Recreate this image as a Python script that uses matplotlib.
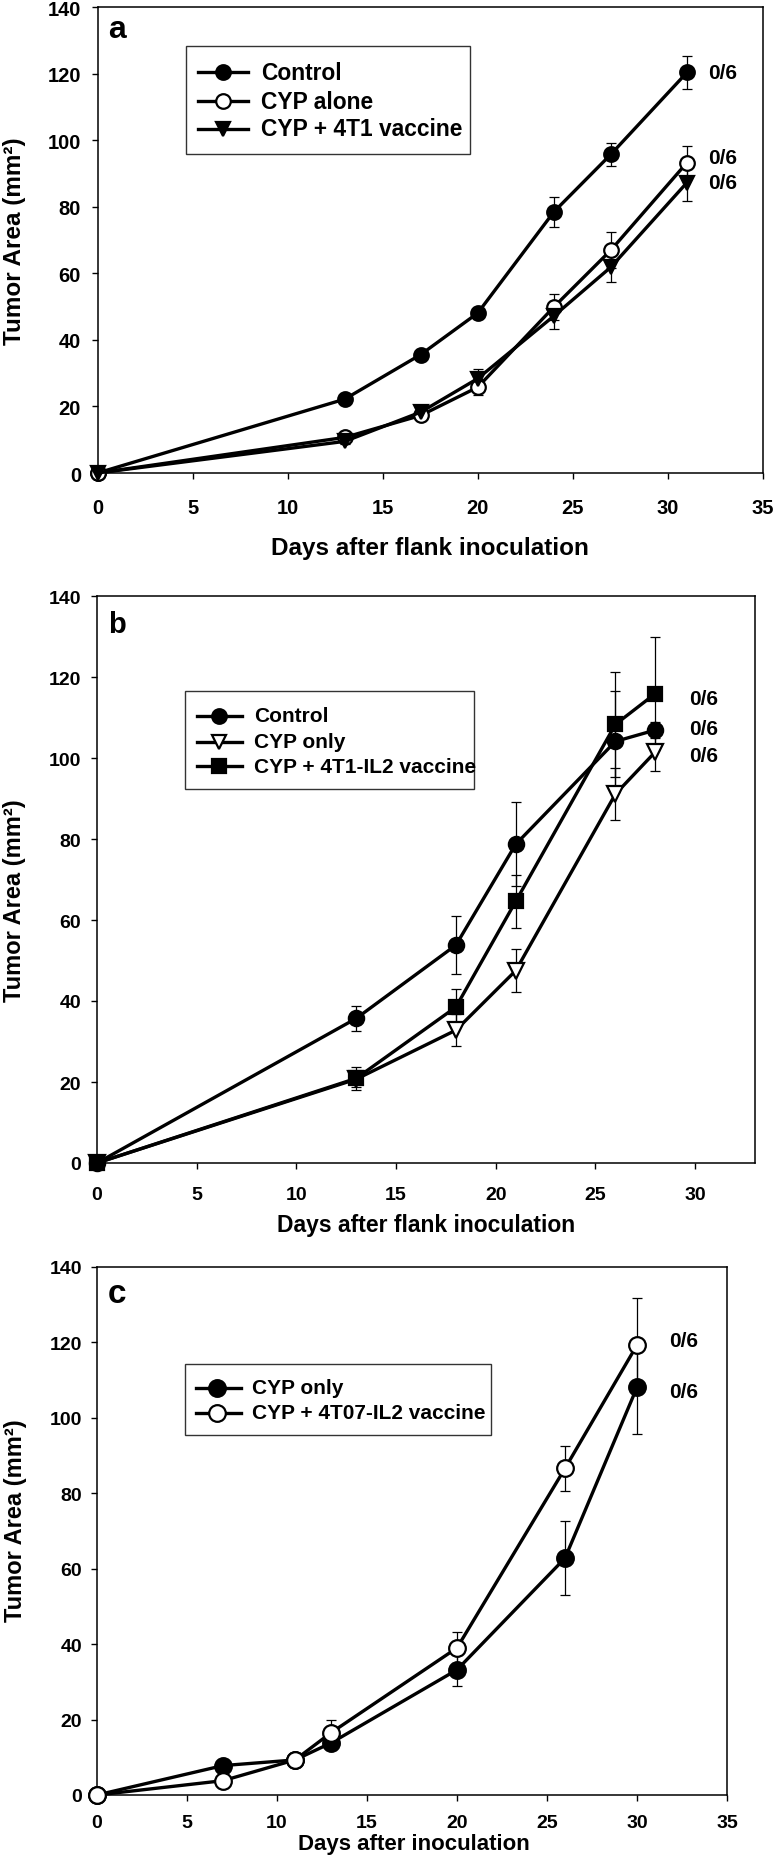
import matplotlib
matplotlib.use("Agg")
import matplotlib.pyplot as plt
from matplotlib.patches import Rectangle

plt.rcParams['font.family'] = ['Liberation Sans', 'DejaVu Sans']
plt.rcParams['font.weight'] = 'bold'

# ---------------- data ----------------
# Panel a
days_a = [0, 13, 17, 20, 24, 27, 31]
a_control = [0, 22.2, 35.6, 48.1, 78.5, 95.8, 120.4]
a_control_err = [0, 1.0, 1.0, 1.0, 4.6, 3.5, 5.0]
a_cyp = [0, 10.7, 17.3, 25.8, 49.9, 67.0, 93.3]
a_cyp_err = [0, 0.8, 0.8, 2.5, 4.0, 5.5, 5.0]
a_vac = [0, 9.5, 18.3, 28.4, 47.2, 61.9, 87.3]
a_vac_err = [0, 0.8, 0.8, 3.0, 4.0, 4.5, 5.5]
a_labels = ["Control", "CYP alone", "CYP + 4T1 vaccine"]
a_ratio_y = [120.4, 94.8, 87.4]

# Panel b
days_b = [0, 13, 18, 21, 26, 28]
b_control = [0, 35.7, 53.8, 78.7, 104.1, 106.9]
b_control_err = [0, 3.0, 7.2, 10.4, 12.4, 2.0]
b_cyp = [0, 20.7, 32.8, 47.5, 91.1, 101.5]
b_cyp_err = [0, 2.0, 4.0, 5.4, 6.5, 4.8]
b_vac = [0, 20.9, 38.5, 64.6, 108.3, 115.9]
b_vac_err = [0, 2.8, 4.5, 6.6, 13.0, 14.0]
b_labels = ["Control", "CYP only", "CYP + 4T1-IL2 vaccine"]
b_ratio_y = [114.8, 107.3, 100.7]

# Panel c
days_c = [0, 7, 11, 13, 20, 26, 30]
c_cyp = [0, 7.8, 9.3, 13.8, 33.2, 62.8, 108.1]
c_cyp_err = [0, 0.5, 0.5, 1.0, 4.2, 9.8, 12.3]
c_vac = [0, 3.8, 9.3, 16.5, 39.0, 86.6, 119.3]
c_vac_err = [0, 0.5, 0.5, 3.4, 4.1, 6.0, 12.5]
c_labels = ["CYP only", "CYP + 4T07-IL2 vaccine"]
c_ratio_y = [120.6, 107.1]

ratio_text = "0/6"
yticks = [0, 20, 40, 60, 80, 100, 120, 140]

W, H = 774, 1858
fig = plt.figure(figsize=(W / 100, H / 100), dpi=100)


def axes_px(left, right, top, bottom):
    return fig.add_axes([left / W, 1 - bottom / H, (right - left) / W, (bottom - top) / H])


def series(ax, x, y, err, marker, face, ms, lw=2.4):
    ax.errorbar(x, y, yerr=err, fmt='none', ecolor='black', elinewidth=0.9,
                capsize=3.5, capthick=0.9, zorder=2, clip_on=False)
    ax.plot(x, y, color='black', lw=lw, marker=marker, markersize=ms,
            markerfacecolor=face, markeredgecolor='black', markeredgewidth=1.6,
            zorder=3, clip_on=False)


def style(ax, xmax, xticks, tsize, xpad, ypad):
    ax.set_xlim(0, xmax)
    ax.set_ylim(0, 140)
    ax.set_xticks(xticks)
    ax.set_yticks(yticks)
    ax.tick_params(direction='out', length=4.3, width=1.0, labelsize=tsize)
    ax.tick_params(axis='x', pad=xpad)
    ax.tick_params(axis='y', pad=ypad)
    for lab in ax.get_xticklabels() + ax.get_yticklabels():
        lab.set_fontweight('bold')
    for sp in ax.spines.values():
        sp.set_linewidth(1.1)


def legend(ax, box, hx, mx, tx, rows, entries, fs, ms):
    x0, x1, y0, y1 = box
    ax.add_patch(Rectangle((x0, y0), x1 - x0, y1 - y0, transform=ax.transAxes,
                           fill=False, edgecolor='#333333', lw=1.0, zorder=5))
    for ry, (marker, face, label) in zip(rows, entries):
        ax.plot([hx[0], hx[1]], [ry, ry], transform=ax.transAxes, color='black',
                lw=2.4, zorder=6, clip_on=False)
        ax.plot([mx], [ry], transform=ax.transAxes, marker=marker, markersize=ms,
                markerfacecolor=face, markeredgecolor='black', markeredgewidth=1.6,
                zorder=7, clip_on=False)
        ax.text(tx, ry, label, transform=ax.transAxes, fontsize=fs,
                fontweight='bold', va='center', ha='left', zorder=7)


# ---------------- panel a ----------------
ax = axes_px(97.5, 763, 8.3, 474)
series(ax, days_a, a_control, a_control_err, 'o', 'black', 10.5)
series(ax, days_a, a_cyp, a_cyp_err, 'o', 'white', 10.5)
series(ax, days_a, a_vac, a_vac_err, 'v', 'black', 10.5)
style(ax, 35, list(range(0, 36, 5)), 14.5, 13.5, 7.5)
legend(ax, (0.1326, 0.559, 0.6857, 0.9164), (0.151, 0.226), 0.189, 0.246,
       [0.86, 0.7986, 0.739],
       [('o', 'black', a_labels[0]), ('o', 'white', a_labels[1]), ('v', 'black', a_labels[2])],
       16.4, 10.5)
for yy in a_ratio_y:
    ax.text(32.9, yy, ratio_text, fontsize=15, fontweight='bold', ha='center', va='center')
ax.text(0.54, 131.1, 'a', fontsize=23, fontweight='bold', ha='left', va='baseline')
ax.set_xlabel("Days after flank inoculation", fontsize=17.5, fontweight='bold')
ax.xaxis.label.set_va('center')
ax.xaxis.set_label_coords(0.5, -0.159)
ax.set_ylabel("Tumor Area (mm²)", fontsize=17.5, fontweight='bold')
ax.yaxis.label.set_va('center')
ax.yaxis.set_label_coords(-0.124, 0.5)

# ---------------- panel b ----------------
ax = axes_px(97, 755, 597, 1164)
series(ax, days_b, b_control, b_control_err, 'o', 'black', 11)
series(ax, days_b, b_cyp, b_cyp_err, 'v', 'white', 11)
series(ax, days_b, b_vac, b_vac_err, 's', 'black', 10)
style(ax, 33, list(range(0, 31, 5)), 14, 12, 7)
legend(ax, (0.134, 0.573, 0.659, 0.833), (0.1515, 0.221), 0.185, 0.239,
       [0.789, 0.743, 0.70],
       [('o', 'black', b_labels[0]), ('v', 'white', b_labels[1]), ('s', 'black', b_labels[2])],
       15, 10.5)
for yy in b_ratio_y:
    ax.text(30.4, yy, ratio_text, fontsize=15, fontweight='bold', ha='center', va='center')
ax.text(0.55, 131.1, 'b', fontsize=21, fontweight='bold', ha='left', va='baseline')
ax.set_xlabel("Days after flank inoculation", fontsize=16.5, fontweight='bold')
ax.xaxis.label.set_va('center')
ax.xaxis.set_label_coords(0.5, -0.1076)
ax.set_ylabel("Tumor Area (mm²)", fontsize=17, fontweight='bold')
ax.yaxis.label.set_va('center')
ax.yaxis.set_label_coords(-0.126, 0.464)

# ---------------- panel c ----------------
ax = axes_px(97, 727, 1268, 1796)
series(ax, days_c, c_cyp, c_cyp_err, 'o', 'black', 12)
series(ax, days_c, c_vac, c_vac_err, 'o', 'white', 12)
style(ax, 35, list(range(0, 36, 5)), 14, 9.2, 6.5)
legend(ax, (0.139, 0.626, 0.681, 0.816), (0.157, 0.229), 0.191, 0.246,
       [0.771, 0.724],
       [('o', 'black', c_labels[0]), ('o', 'white', c_labels[1])],
       15, 12)
for yy in c_ratio_y:
    ax.text(32.6, yy, ratio_text, fontsize=15, fontweight='bold', ha='center', va='center')
ax.text(0.61, 130.7, 'c', fontsize=24, fontweight='bold', ha='left', va='baseline')
ax.set_xlabel("Days after inoculation", fontsize=16, fontweight='bold')
ax.xaxis.label.set_va('center')
ax.xaxis.set_label_coords(0.503, -0.0928)
ax.set_ylabel("Tumor Area (mm²)", fontsize=17, fontweight='bold')
ax.yaxis.label.set_va('center')
ax.yaxis.set_label_coords(-0.130, 0.521)

fig.savefig("out.png", dpi=100)
